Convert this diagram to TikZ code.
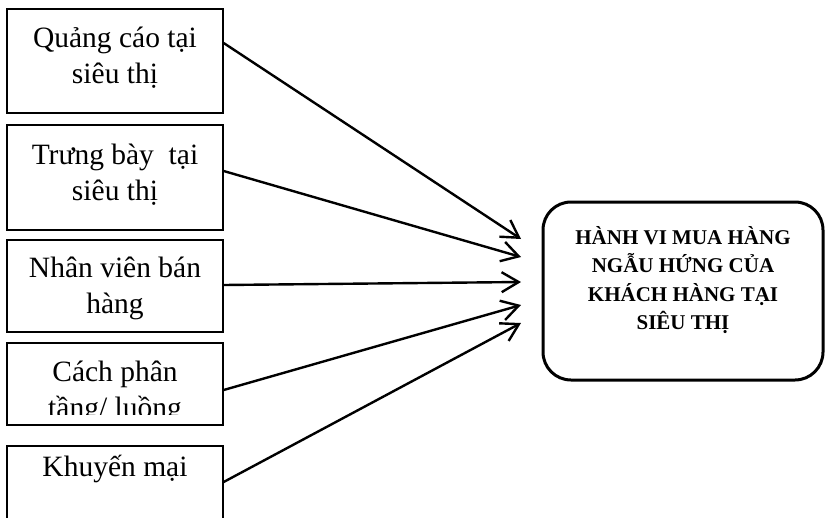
\documentclass[tikz,border=0pt]{standalone}
\usepackage{fontspec}
\setmainfont{Liberation Serif}
\usetikzlibrary{arrows.meta}
\begin{document}
\begin{tikzpicture}[x=1pt,y=-1pt,
  srcbox/.style={draw, line width=1.3pt, minimum width=216pt, inner sep=0pt},
  srctext/.style={align=center, inner sep=0pt, font=\fontsize{29.5}{36}\selectfont},
  tgtbox/.style={draw, line width=3pt, rounded corners=28pt, minimum width=280pt, minimum height=178pt, inner sep=0pt},
  tgttext/.style={align=center, inner sep=0pt, font=\bfseries\fontsize{21}{28.5}\selectfont},
  arr/.style={line width=2.4pt, -{Straight Barb[length=17pt,width=20pt,line width=2.4pt]}}]
\useasboundingbox (0,0) rectangle (827,517);
\clip (0,0) rectangle (827,517);
% source boxes
\node[srcbox, minimum height=104pt] (b1) at (115,61) {};
\node[srctext] (t1) at (115,58) {Quảng cáo tại\\siêu thị};
\node[srcbox, minimum height=105pt] (b2) at (115,177.5) {};
\node[srctext] (t2) at (115,175) {Trưng bày~ tại\\siêu thị};
\node[srcbox, minimum height=92pt] (b3) at (115,286) {};
\node[srctext] (t3) at (115,288) {Nhân viên bán\\hàng};
\node[srcbox, minimum height=82pt] (b4) at (115,384) {};
\begin{scope}
\clip (0,343) rectangle (230,414);
\node[srctext] (t4) at (115,392) {Cách phân\\tầng/ luồng};
\end{scope}
\node[srcbox, minimum height=114pt] (b5) at (115,503) {};
\node[srctext, anchor=base] (t5) at (115,476) {Khuyến mại};
% target
\node[tgtbox] (tg) at (683,291) {};
\node[tgttext] (tgt) at (683,280) {HÀNH VI MUA HÀNG\\NGẪU HỨNG CỦA\\KHÁCH HÀNG TẠI\\SIÊU THỊ};
% arrow tips
\coordinate (e1) at (521,239);
\coordinate (e2) at (521,257);
\coordinate (e3) at (521,282);
\coordinate (e4) at (521,305);
\coordinate (e5) at (521,323);
\draw[arr] ([yshift=18pt]b1.east) -- (e1);
\draw[arr] ([yshift=6.5pt]b2.east) -- (e2);
\draw[arr] ([yshift=1pt]b3.east) -- (e3);
\draw[arr] ([yshift=-6pt]b4.east) -- (e4);
\draw[arr] ([yshift=21pt]b5.east) -- (e5);
\end{tikzpicture}
\end{document}
